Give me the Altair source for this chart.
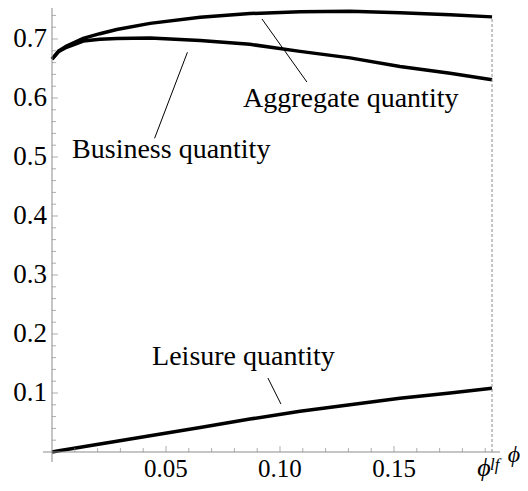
import altair as alt
import pandas as pd

# ---- data ----
phi = [0, 0.003, 0.0064, 0.0137, 0.021, 0.0284, 0.043, 0.065, 0.0868, 0.1088,
       0.1307, 0.1526, 0.1746, 0.193]
aggregate = [0.666, 0.680, 0.688, 0.701, 0.709, 0.716, 0.7265, 0.7367, 0.7432,
             0.746, 0.747, 0.7445, 0.741, 0.7375]
business = [0.666, 0.679, 0.686, 0.6965, 0.6995, 0.701, 0.7015, 0.6975, 0.691,
            0.679, 0.668, 0.6535, 0.642, 0.631]
leisure = [0, 0.002, 0.0042, 0.009, 0.0137, 0.0182, 0.0277, 0.0416, 0.0558,
           0.0689, 0.080, 0.091, 0.1001, 0.108]
phi_lf = 0.193

x_major = [0.05, 0.10, 0.15]
x_major_labels = ["0.05", "0.10", "0.15"]
x_minor = [0.01, 0.02, 0.03, 0.04, 0.06, 0.07, 0.08, 0.09, 0.11, 0.12, 0.13,
           0.14, 0.16, 0.17, 0.18, 0.19]
y_major = [0.1, 0.2, 0.3, 0.4, 0.5, 0.6, 0.7]
y_major_labels = ["0.1", "0.2", "0.3", "0.4", "0.5", "0.6", "0.7"]
y_minor = [0.02, 0.04, 0.06, 0.08, 0.12, 0.14, 0.16, 0.18, 0.22, 0.24, 0.26,
           0.28, 0.32, 0.34, 0.36, 0.38, 0.42, 0.44, 0.46, 0.48, 0.52, 0.54,
           0.56, 0.58, 0.62, 0.64, 0.66, 0.68, 0.72, 0.74]

labels = ["Aggregate quantity", "Business quantity", "Leisure quantity"]
label_x = [0.0838, 0.0088, 0.0439]
label_y = [0.5847, 0.4983, 0.1475]
leader_x = [0.0921, 0.0594, 0.0947]
leader_y = [0.7339, 0.6775, 0.1254]
leader_x2 = [0.1118, 0.0450, 0.1004]
leader_y2 = [0.6271, 0.5317, 0.0814]

X_DOM = [-0.003947, 0.205263]
Y_DOM = [-0.05255, 0.75254]
FONT = "Liberation Serif"
GRAY = "#8c8c8c"

xs = alt.Scale(domain=X_DOM, nice=False, zero=False)
ys = alt.Scale(domain=Y_DOM, nice=False, zero=False)


def X(field):
    return alt.X(field, scale=xs, axis=None)


def Y(field):
    return alt.Y(field, scale=ys, axis=None)


curves = pd.DataFrame({
    "phi": phi * 3,
    "value": aggregate + business + leisure,
    "series": ["Aggregate"] * len(phi) + ["Business"] * len(phi) + ["Leisure"] * len(phi),
})

lines = alt.Chart(curves).mark_line(color="black", strokeWidth=3.5).encode(
    x=X("phi:Q"), y=Y("value:Q"), detail="series:N",
)

axes_df = pd.DataFrame({
    "x": [X_DOM[0], 0.0],
    "x2": [0.1965, 0.0],
    "y": [0.0, -0.017],
    "y2": [0.0, Y_DOM[1]],
})
axes_lines = alt.Chart(axes_df).mark_rule(color=GRAY, strokeWidth=1).encode(
    x=X("x:Q"), x2="x2:Q", y=Y("y:Q"), y2="y2:Q",
)


def xticks(vals, size):
    df = pd.DataFrame({"x": vals, "y": [0.0] * len(vals)})
    return alt.Chart(df).mark_tick(orient="vertical", size=size, thickness=1,
                                   color=GRAY, yOffset=-size / 2).encode(
        x=X("x:Q"), y=Y("y:Q"))


def yticks(vals, size):
    df = pd.DataFrame({"y": vals, "x": [0.0] * len(vals)})
    return alt.Chart(df).mark_tick(orient="horizontal", size=size, thickness=1,
                                   color=GRAY, xOffset=size / 2).encode(
        x=X("x:Q"), y=Y("y:Q"))


xlab_df = pd.DataFrame({"x": x_major, "y": [0.0] * len(x_major), "t": x_major_labels})
xlabels = alt.Chart(xlab_df).mark_text(font=FONT, fontSize=25, align="center",
                                       baseline="alphabetic", dy=25.5,
                                       color="black").encode(
    x=X("x:Q"), y=Y("y:Q"), text="t:N")

ylab_df = pd.DataFrame({"y": y_major, "x": [0.0] * len(y_major), "t": y_major_labels})
ylabels = alt.Chart(ylab_df).mark_text(font=FONT, fontSize=27, align="right",
                                       baseline="middle", dx=-5, color="black").encode(
    x=X("x:Q"), y=Y("y:Q"), text="t:N")

dash_df = pd.DataFrame({"x": [phi_lf], "y": [0.0], "y2": [aggregate[-1]]})
dashed = alt.Chart(dash_df).mark_rule(color=GRAY, strokeWidth=1, strokeDash=[3, 2]).encode(
    x=X("x:Q"), y=Y("y:Q"), y2="y2:Q",
)

lead_df = pd.DataFrame({"x": leader_x, "y": leader_y, "x2": leader_x2, "y2": leader_y2})
leaders = alt.Chart(lead_df).mark_rule(color="black", strokeWidth=1).encode(
    x=X("x:Q"), x2="x2:Q", y=Y("y:Q"), y2="y2:Q",
)

text_df = pd.DataFrame({"x": label_x, "y": label_y, "t": labels})
texts = alt.Chart(text_df).mark_text(font=FONT, fontSize=28, align="left",
                                     baseline="alphabetic", color="black").encode(
    x=X("x:Q"), y=Y("y:Q"), text="t:N",
)

lf_df = pd.DataFrame({"x": [phi_lf], "y": [0.0]})
phi_main = alt.Chart(lf_df).mark_text(text="\u03d5", font=FONT, fontSize=26,
                                      fontStyle="italic", align="center",
                                      baseline="alphabetic", dx=-8, dy=24,
                                      color="black").encode(x=X("x:Q"), y=Y("y:Q"))
phi_sup = alt.Chart(lf_df).mark_text(text="lf", font=FONT, fontSize=17,
                                     fontStyle="italic", align="left",
                                     baseline="alphabetic", dx=-2, dy=18,
                                     color="black").encode(x=X("x:Q"), y=Y("y:Q"))

axis_title_df = pd.DataFrame({"x": [0.2026], "y": [0.0]})
phi_title = alt.Chart(axis_title_df).mark_text(text="\u03d5", font=FONT, fontSize=24,
                                               fontStyle="italic", align="center",
                                               baseline="alphabetic", dy=10,
                                               color="black").encode(x=X("x:Q"), y=Y("y:Q"))

chart = alt.layer(
    lines, axes_lines, xticks(x_minor, 4), xticks(x_major, 6),
    yticks(y_minor, 4), yticks(y_major, 6), xlabels, ylabels, dashed, leaders,
    texts, phi_main, phi_sup, phi_title,
).properties(
    width=477, height=475,
    autosize=alt.AutoSizeParams(type="none"),
    padding={"left": 35, "top": 0, "right": 0, "bottom": 0},
    background="white",
).configure_view(stroke=None)

chart.save("out.html", embed_options={"renderer": "svg", "actions": False})
